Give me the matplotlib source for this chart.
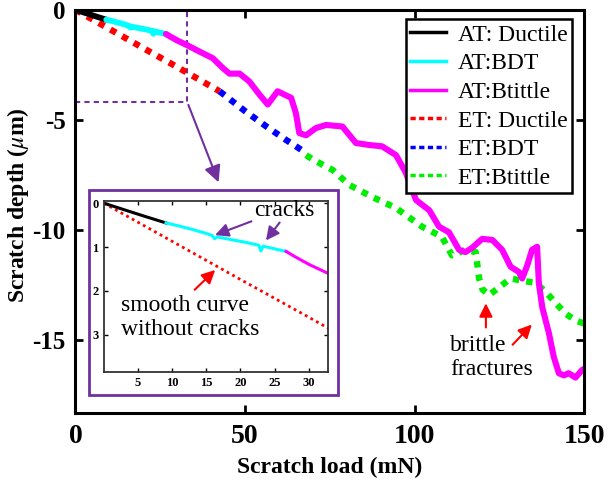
import matplotlib
matplotlib.use("Agg")
import matplotlib.pyplot as plt
from matplotlib.lines import Line2D
from matplotlib.patches import Rectangle

plt.rcParams["font.family"] = ["Liberation Serif", "DejaVu Serif"]
plt.rcParams["mathtext.fontset"] = "stix"
plt.rcParams["axes.unicode_minus"] = False

# AT (solid) segments: scratch load (mN), depth (um)
at_duct_x = [0, 2, 4, 6, 9.1]
at_duct_y = [0, -0.1, -0.2, -0.3, -0.45]
at_bdt_x = [9.1, 11, 13, 15, 15.9, 16.2, 16.6, 19, 21, 22.7, 23.0, 23.3, 25, 26.7]
at_bdt_y = [-0.45, -0.52, -0.6, -0.69, -0.74, -0.81, -0.77, -0.84, -0.9, -0.96, -1.09, -0.98, -1.04, -1.1]
at_brit_x = [26.7, 28, 30.1, 32.7, 36.6, 40.5, 43.5, 45.4, 48.4, 51.3, 54.3, 56.7, 59.6,
             63.6, 65, 66, 68, 70.9, 73.9, 78.7, 82.7, 86.6, 90.4, 94.5, 97.4, 100.4,
             104.3, 107.2, 110.1, 113.1, 115, 117, 119.9, 122.9, 125.8, 128.3, 130.7,
             131.7, 133.2, 134.6, 136.1, 136.6, 137.6, 139.6, 141, 142.5, 144, 145.4,
             147.4, 149.3, 150]
at_brit_y = [-1.1, -1.22, -1.4, -1.59, -1.9, -2.2, -2.65, -2.9, -2.9, -3.26, -3.86, -4.3, -3.7,
             -4.0, -4.7, -5.6, -5.7, -5.37, -5.23, -5.3, -6.05, -6.14, -6.2, -6.6, -7.4, -8.64,
             -9.1, -9.85, -10.1, -10.9, -11.0, -10.8, -10.4, -10.45, -10.9, -11.67, -11.9,
             -12.2, -11.6, -10.9, -10.76, -12.4, -13.5, -14.7, -15.76, -16.5, -16.6, -16.5,
             -16.7, -16.36, -16.3]

# ET (dotted) segments
et_duct_x = [0, 10, 20, 30, 42.5]
et_duct_y = [0, -0.87, -1.74, -2.6, -3.7]
et_bdt_x = [42.5, 50, 56.3, 62, 68]
et_bdt_y = [-3.7, -4.6, -5.3, -5.9, -6.5]
et_brit_x = [68, 70, 75.8, 80.7, 87.5, 94.5, 102.2, 108, 111, 115, 118, 119, 120, 122,
             124.9, 128.3, 131.7, 135.6, 138.6, 141.5, 144.5, 147.4, 150]
et_brit_y = [-6.6, -6.8, -7.27, -7.95, -8.5, -9.0, -9.85, -10.3, -11.15, -10.9, -11.0,
             -12.2, -12.7, -12.95, -12.6, -12.2, -12.3, -12.4, -12.8, -13.3, -13.8, -14.1, -14.25]

labels = ["AT: Ductile", "AT:BDT", "AT:Btittle", "ET: Ductile", "ET:BDT", "ET:Btittle"]
colors = ["black", "cyan", "magenta", "red", "blue", "#00ee00"]
purple = "#7030A0"

fig = plt.figure(figsize=(6.08, 4.88), dpi=100)
ax = fig.add_axes([0.124, 0.154, 0.837, 0.826])

dots = (0, (1.0, 1.1))
ax.plot(et_duct_x, et_duct_y, color=colors[3], lw=4.6, linestyle=dots)
ax.plot(et_bdt_x, et_bdt_y, color=colors[4], lw=4.6, linestyle=dots)
ax.plot(et_brit_x, et_brit_y, color=colors[5], lw=4.6, linestyle=dots)
ax.plot(at_duct_x, at_duct_y, color=colors[0], lw=4.2, solid_capstyle="round")
ax.plot(at_bdt_x, at_bdt_y, color=colors[1], lw=4.2, solid_capstyle="round")
ax.plot(at_brit_x, at_brit_y, color=colors[2], lw=4.4, solid_capstyle="round",
        solid_joinstyle="round")

ax.set_xlim(0, 150)
ax.set_ylim(-18.3, 0)
ax.set_xticks([0, 50, 100, 150])
ax.set_yticks([0, -5, -10, -15])
ax.tick_params(direction="in", length=6, width=2, top=True, right=True, pad=8)
ax.tick_params(axis="x", labelsize=20)
ax.tick_params(axis="y", labelsize=18, pad=7)
for lab in ax.get_xticklabels() + ax.get_yticklabels():
    lab.set_fontweight("bold")
for sp in ax.spines.values():
    sp.set_linewidth(2.2)
ax.set_xlabel("Scratch load (mN)", fontsize=17, fontweight="bold", labelpad=6)
ax.set_ylabel(r"Scratch depth ($\mu$m)", fontsize=17, fontweight="bold")
ax.yaxis.set_label_coords(-0.088, 0.516)

# zoom box and arrow to the inset
ax.add_patch(Rectangle((0, -4.2), 33, 4.2, fill=False, edgecolor=purple,
                       lw=1.5, linestyle=(0, (2.5, 2)), zorder=1))
ax.annotate("", xy=(42.5, -7.95), xytext=(33, -4.2),
            arrowprops=dict(arrowstyle="-|>", color=purple, lw=1.5, mutation_scale=25))

handles = []
for i, c in enumerate(colors):
    if i < 3:
        handles.append(Line2D([], [], color=c, lw=2.5))
    else:
        handles.append(Line2D([], [], color=c, lw=2.5, linestyle=(0, (1.5, 1))))
leg = ax.legend(handles, labels, loc="upper right", bbox_to_anchor=(0.976, 0.976),
                fontsize=17, handlelength=1.5, handletextpad=0.5, labelspacing=0.3,
                borderpad=0.2, fancybox=False, framealpha=1, borderaxespad=0)
leg.get_frame().set_edgecolor("black")
leg.get_frame().set_linewidth(1.8)

ax.text(110.5, -15.8, "brittle\nfractures", fontsize=17, ha="left", va="center")
ax.annotate("", xy=(121, -13.2), xytext=(121, -14.55),
            arrowprops=dict(arrowstyle="-|>", color="red", lw=1.5, mutation_scale=20))
ax.annotate("", xy=(135.1, -14.2), xytext=(128.3, -15.3),
            arrowprops=dict(arrowstyle="-|>", color="red", lw=1.5, mutation_scale=20))

# inset frame
frame = Rectangle((0.146, 0.191), 0.410, 0.420, transform=fig.transFigure,
                  facecolor="white", edgecolor=purple, lw=2, zorder=1)
fig.add_artist(frame)

axi = fig.add_axes([0.171, 0.238, 0.368, 0.350])
axi.set_zorder(2)
axi.plot(et_duct_x, [-v for v in et_duct_y], color="red", lw=2, linestyle=(0, (1, 1.3)))
axi.plot(at_duct_x, [-v for v in at_duct_y], color="black", lw=2.2)
axi.plot(at_bdt_x, [-v for v in at_bdt_y], color="cyan", lw=2.2)
axi.plot(at_brit_x, [-v for v in at_brit_y], color="magenta", lw=2.2)
axi.set_xlim(0, 32.8)
axi.set_ylim(3.85, -0.05)
axi.set_xticks([5, 10, 15, 20, 25, 30])
axi.set_yticks([0, 1, 2, 3])
axi.tick_params(direction="in", length=3, width=1, top=True, right=True,
                labelsize=9, pad=4)
for lab in axi.get_xticklabels() + axi.get_yticklabels():
    lab.set_fontweight("bold")
for sp in axi.spines.values():
    sp.set_linewidth(1.3)
    sp.set_color("#333333")

axi.text(26.5, 0.16, "cracks", fontsize=17, ha="center", va="center")
axi.annotate("", xy=(15.9, 0.75), xytext=(22, 0.39),
             arrowprops=dict(arrowstyle="-|>", color=purple, lw=1.5, mutation_scale=20))
axi.annotate("", xy=(23.5, 0.9), xytext=(26, 0.39),
             arrowprops=dict(arrowstyle="-|>", color=purple, lw=1.5, mutation_scale=20))
axi.text(2.5, 2.6, "smooth curve\nwithout cracks", fontsize=17, ha="left", va="center")
axi.annotate("", xy=(16.6, 1.48), xytext=(13, 2.02),
             arrowprops=dict(arrowstyle="-|>", color="red", lw=1.5, mutation_scale=20))

fig.savefig("out.png", dpi=100)
